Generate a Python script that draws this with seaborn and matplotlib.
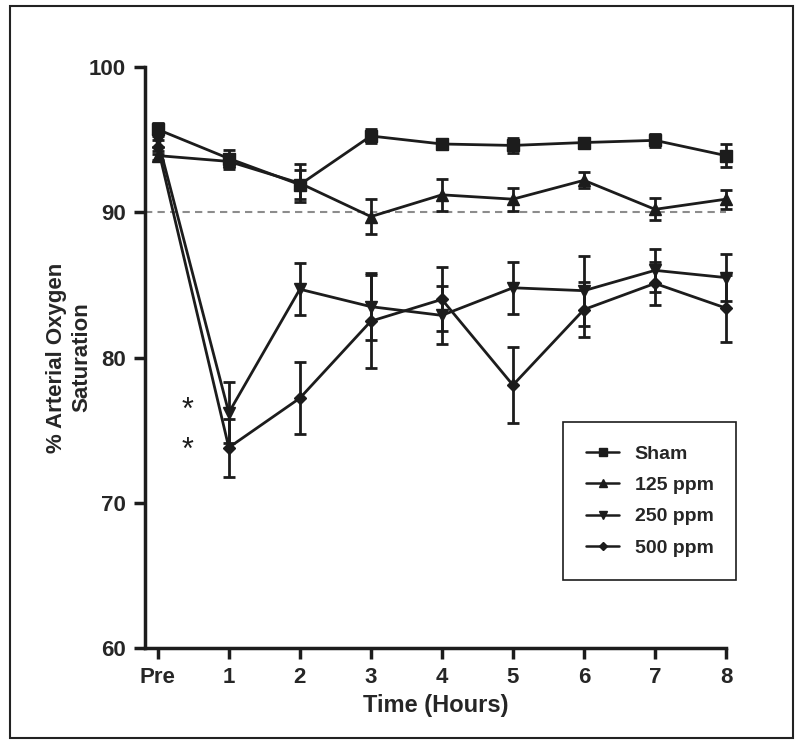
import numpy as np
import pandas as pd
import matplotlib
matplotlib.use('Agg')
from matplotlib import pyplot as plt
from matplotlib.patches import Rectangle
import seaborn as sns

# values
time_labels = ['Pre', '1', '2', '3', '4', '5', '6', '7', '8']
groups = ['Sham', '125 ppm', '250 ppm', '500 ppm']

sham = [95.7, 93.7, 91.9, 95.25, 94.7, 94.6, 94.8, 94.95, 93.9]
sham_err = [0.45, 0.6, 1.0, 0.45, 0.2, 0.5, 0.2, 0.45, 0.8]
ppm125 = [93.9, 93.5, 92.0, 89.7, 91.2, 90.9, 92.2, 90.2, 90.9]
ppm125_err = [0.3, 0.5, 1.3, 1.2, 1.1, 0.8, 0.55, 0.75, 0.65]
ppm250 = [95.0, 76.2, 84.7, 83.5, 82.9, 84.8, 84.6, 86.0, 85.5]
ppm250_err = [0.5, 2.1, 1.8, 2.3, 2.0, 1.8, 2.4, 1.5, 1.6]
ppm500 = [94.5, 73.8, 77.2, 82.5, 84.0, 78.1, 83.3, 85.1, 83.4]
ppm500_err = [0.5, 2.0, 2.5, 3.2, 2.2, 2.6, 1.9, 1.5, 2.3]

# significance marks at hour 1
star_y = [76.3, 73.6]

sns.set_style('ticks')
plt.rcParams['font.family'] = ['Liberation Sans', 'DejaVu Sans']
plt.rcParams['font.weight'] = 'bold'

ink = '#1c1c1c'
x = np.arange(len(time_labels))

df = pd.DataFrame({
    't': np.tile(x, 4),
    'sat': sham + ppm125 + ppm250 + ppm500,
    'err': sham_err + ppm125_err + ppm250_err + ppm500_err,
    'group': np.repeat(groups, len(x)),
})

fig = plt.figure(figsize=(8, 7.48), dpi=100)
ax = fig.add_axes([145 / 800, 1 - 648 / 748, 581 / 800, 581 / 748])

ax.axhline(90, color='#8c8c8c', lw=1.5, ls=(0, (3.5, 2.5)), zorder=1)

marks = {'Sham': ('s', 9), '125 ppm': ('^', 9), '250 ppm': ('v', 9), '500 ppm': ('D', 6)}
for g in groups:
    sub = df[df['group'] == g]
    ax.errorbar(sub['t'], sub['sat'], yerr=sub['err'], fmt='none', ecolor=ink,
                elinewidth=2, capsize=4.5, capthick=2, clip_on=False, zorder=2)
    m, ms = marks[g]
    sns.lineplot(data=sub, x='t', y='sat', ax=ax, color=ink, marker=m,
                 markersize=ms, markeredgecolor=ink, markeredgewidth=1,
                 linewidth=2, label=g, clip_on=False, zorder=3)

for yy in star_y:
    ax.text(0.42, yy, '*', ha='center', va='center', fontsize=22,
            fontweight='normal', color=ink)

ax.set_xlim(-0.18, 8)
ax.set_ylim(60, 100)
ax.set_xticks(x)
ax.set_xticklabels(time_labels)
ax.set_yticks([60, 70, 80, 90, 100])
ax.tick_params(axis='both', length=8, width=2.5, labelsize=16, color=ink, pad=6)
for lab in ax.get_xticklabels() + ax.get_yticklabels():
    lab.set_fontweight('bold')
ax.set_xlabel('Time (Hours)', fontsize=17, fontweight='bold', labelpad=4)
ax.set_ylabel('% Arterial Oxygen\nSaturation', fontsize=16, fontweight='bold',
              labelpad=-3, linespacing=1.3)
sns.despine(ax=ax)
for s in ['left', 'bottom']:
    ax.spines[s].set_linewidth(2.5)
    ax.spines[s].set_color(ink)

leg = ax.legend(loc='upper left', bbox_to_anchor=(0.719, 0.119, 0.298, 0.27),
                mode='expand', fancybox=False, frameon=True, framealpha=1,
                fontsize=14, handlelength=1.7, labelspacing=0.7, borderpad=1.2,
                handletextpad=0.8, borderaxespad=0, markerscale=0.65)
leg.get_frame().set_edgecolor(ink)
leg.get_frame().set_linewidth(1.2)
leg.set_zorder(5)
for t in leg.get_texts():
    t.set_fontweight('bold')
for h in leg.get_lines():
    h.set_linewidth(1.8)

fig.add_artist(Rectangle((10 / 800, 1 - 738 / 748), 783 / 800, 732 / 748,
                         transform=fig.transFigure, fill=False, lw=1.5, ec='#222222'))

fig.savefig('out.png', dpi=100)
